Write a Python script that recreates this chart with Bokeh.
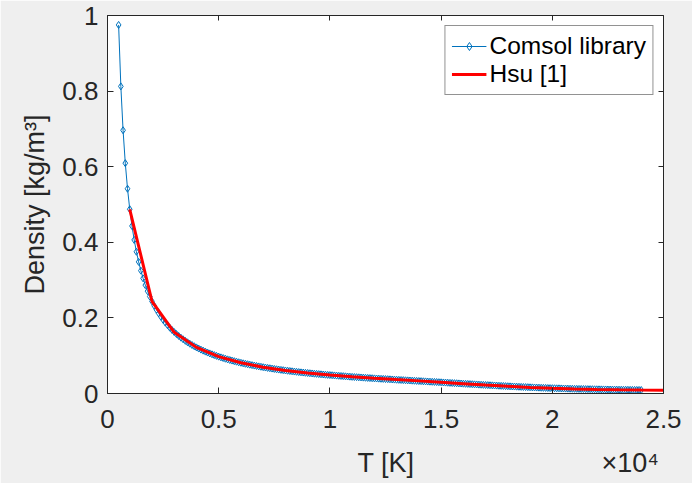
from bokeh.plotting import figure
from bokeh.models import Range1d, LinearAxis, FixedTicker, Label, Legend, LegendItem
from bokeh.embed import file_html
from bokeh.resources import INLINE

# ---- data ----
comsol_T = [
    500, 600, 700, 800, 900, 1000, 1100, 1200, 1300, 1400, 1500, 1600, 1700, 1800, 1900,
    2000, 2100, 2200, 2300, 2400, 2500, 2600, 2700, 2800, 2900, 3000, 3100, 3200, 3300, 3400,
    3500, 3600, 3700, 3800, 3900, 4000, 4100, 4200, 4300, 4400, 4500, 4600, 4700, 4800, 4900,
    5000, 5100, 5200, 5300, 5400, 5500, 5600, 5700, 5800, 5900, 6000, 6100, 6200, 6300, 6400,
    6500, 6600, 6700, 6800, 6900, 7000, 7100, 7200, 7300, 7400, 7500, 7600, 7700, 7800, 7900,
    8000, 8100, 8200, 8300, 8400, 8500, 8600, 8700, 8800, 8900, 9000, 9100, 9200, 9300, 9400,
    9500, 9600, 9700, 9800, 9900, 10000, 10100, 10200, 10300, 10400, 10500, 10600, 10700, 10800, 10900,
    11000, 11100, 11200, 11300, 11400, 11500, 11600, 11700, 11800, 11900, 12000, 12100, 12200, 12300, 12400,
    12500, 12600, 12700, 12800, 12900, 13000, 13100, 13200, 13300, 13400, 13500, 13600, 13700, 13800, 13900,
    14000, 14100, 14200, 14300, 14400, 14500, 14600, 14700, 14800, 14900, 15000, 15100, 15200, 15300, 15400,
    15500, 15600, 15700, 15800, 15900, 16000, 16100, 16200, 16300, 16400, 16500, 16600, 16700, 16800, 16900,
    17000, 17100, 17200, 17300, 17400, 17500, 17600, 17700, 17800, 17900, 18000, 18100, 18200, 18300, 18400,
    18500, 18600, 18700, 18800, 18900, 19000, 19100, 19200, 19300, 19400, 19500, 19600, 19700, 19800, 19900,
    20000, 20100, 20200, 20300, 20400, 20500, 20600, 20700, 20800, 20900, 21000, 21100, 21200, 21300, 21400,
    21500, 21600, 21700, 21800, 21900, 22000, 22100, 22200, 22300, 22400, 22500, 22600, 22700, 22800, 22900,
    23000, 23100, 23200, 23300, 23400, 23500, 23600, 23700, 23800, 23900, 24000,
]
comsol_density = [
    0.975, 0.8125, 0.6964, 0.6094, 0.5417, 0.4875, 0.4432, 0.4063, 0.375, 0.3482, 0.325, 0.3047, 0.2868, 0.2708, 0.2566,
    0.2438, 0.2321, 0.2216, 0.212, 0.2031, 0.195, 0.1875, 0.1806, 0.1741, 0.1681, 0.1625, 0.1573, 0.1523, 0.1477, 0.1434,
    0.1393, 0.1354, 0.1318, 0.1283, 0.125, 0.1219, 0.1189, 0.1161, 0.1134, 0.1108, 0.1083, 0.106, 0.1037, 0.1016, 0.0995,
    0.0975, 0.0956, 0.0938, 0.092, 0.0903, 0.0886, 0.0871, 0.0855, 0.0841, 0.0826, 0.0813, 0.0799, 0.0786, 0.0774, 0.0762,
    0.075, 0.0739, 0.0728, 0.0717, 0.0707, 0.0696, 0.0687, 0.0677, 0.0668, 0.0659, 0.065, 0.0641, 0.0633, 0.0625, 0.0617,
    0.0609, 0.0602, 0.0595, 0.0587, 0.058, 0.0574, 0.0567, 0.056, 0.0554, 0.0548, 0.0542, 0.0536, 0.053, 0.0524, 0.0519,
    0.0513, 0.0508, 0.0503, 0.0497, 0.0492, 0.0488, 0.0483, 0.0478, 0.0473, 0.0468, 0.0463, 0.0459, 0.0454, 0.0449, 0.0445,
    0.044, 0.0436, 0.0432, 0.0428, 0.0424, 0.042, 0.0416, 0.0412, 0.0408, 0.0404, 0.04, 0.0396, 0.0393, 0.0389, 0.0386,
    0.0382, 0.0379, 0.0375, 0.0371, 0.0368, 0.0364, 0.0361, 0.0357, 0.0354, 0.035, 0.0347, 0.0344, 0.034, 0.0337, 0.0333,
    0.033, 0.0327, 0.0323, 0.032, 0.0316, 0.0313, 0.031, 0.0306, 0.0303, 0.0299, 0.0296, 0.0292, 0.0289, 0.0285, 0.0281,
    0.0278, 0.0274, 0.0271, 0.0267, 0.0264, 0.026, 0.0256, 0.0253, 0.0249, 0.0246, 0.0242, 0.0239, 0.0235, 0.0232, 0.0228,
    0.0225, 0.0222, 0.0218, 0.0215, 0.0212, 0.0209, 0.0205, 0.0202, 0.0199, 0.0195, 0.0192, 0.0189, 0.0186, 0.0184, 0.0181,
    0.0178, 0.0175, 0.0172, 0.017, 0.0167, 0.0164, 0.0162, 0.0159, 0.0157, 0.0155, 0.0152, 0.015, 0.0148, 0.0145, 0.0143,
    0.0141, 0.0139, 0.0137, 0.0136, 0.0134, 0.0132, 0.0131, 0.0129, 0.0127, 0.0126, 0.0124, 0.0123, 0.0121, 0.012, 0.0119,
    0.0117, 0.0116, 0.0115, 0.0114, 0.0112, 0.0111, 0.011, 0.0109, 0.0108, 0.0107, 0.0106, 0.0105, 0.0104, 0.0103, 0.0102,
    0.0101, 0.01, 0.0099, 0.0098, 0.0098, 0.0097, 0.0096, 0.0095, 0.0094, 0.0094, 0.0093,
]
hsu_T = [1000, 2000, 3000, 4000, 5000, 6000, 7000, 8000, 9000, 10000, 11000, 12000, 13000,
         14000, 15000, 16000, 17000, 18000, 19000, 20000, 21000, 22000, 23000, 24000, 25000]
hsu_density = [0.487, 0.244, 0.162, 0.122, 0.0975, 0.0812, 0.0696, 0.0609, 0.0541, 0.0487, 0.0442,
               0.0403, 0.0368, 0.0334, 0.0298, 0.026, 0.0223, 0.0189, 0.0161, 0.0139, 0.0122,
               0.0109, 0.0099, 0.0091, 0.0085]

x_ticks = [0, 5000, 10000, 15000, 20000, 25000]
x_tick_labels = ["0", "0.5", "1", "1.5", "2", "2.5"]
y_ticks = [0, 0.2, 0.4, 0.6, 0.8, 1.0]
y_tick_labels = ["0", "0.2", "0.4", "0.6", "0.8", "1"]
x_title = "T [K]"
x_multiplier = "×10⁴"
y_title = "Density [kg/m³]"

FONT = "Liberation Sans"
AX = "#262626"

p = figure(width=692, height=483, output_backend="svg", toolbar_location=None,
           x_range=Range1d(0, 25000), y_range=Range1d(0, 1),
           min_border_left=107, min_border_right=29, min_border_top=15, min_border_bottom=90)
p.background_fill_color = "white"
p.border_fill_color = "#efefef"
p.outline_line_color = AX
p.outline_line_width = 1
p.grid.visible = False

for ax in (p.xaxis[0], p.yaxis[0]):
    ax.major_tick_in = 6
    ax.major_tick_out = 0
    ax.minor_tick_line_color = None
    ax.axis_line_color = AX
    ax.major_tick_line_color = AX
    ax.major_label_text_font = FONT
    ax.major_label_text_font_size = "26px"
    ax.major_label_text_color = AX
    ax.axis_label_text_font = FONT
    ax.axis_label_text_font_size = "27px"
    ax.axis_label_text_font_style = "normal"
    ax.axis_label_text_color = AX

p.xaxis[0].ticker = FixedTicker(ticks=x_ticks)
p.xaxis[0].major_label_overrides = dict(zip(x_ticks, x_tick_labels))
p.xaxis[0].major_label_standoff = 16

p.yaxis[0].ticker = FixedTicker(ticks=y_ticks)
p.yaxis[0].major_label_overrides = dict(zip(y_ticks, y_tick_labels))
p.yaxis[0].axis_label = y_title
p.yaxis[0].major_label_standoff = 9
p.yaxis[0].axis_label_standoff = 9

# top and right ticks (box with inner ticks), no labels
top = LinearAxis(ticker=FixedTicker(ticks=x_ticks), major_tick_in=5, major_tick_out=0,
                 minor_tick_line_color=None, major_label_overrides={t: "" for t in x_ticks},
                 major_label_standoff=0, axis_line_color=None, major_tick_line_color=AX)
right = LinearAxis(ticker=FixedTicker(ticks=y_ticks), major_tick_in=5, major_tick_out=0,
                   minor_tick_line_color=None, major_label_overrides={t: "" for t in y_ticks},
                   major_label_standoff=0, axis_line_color=None, major_tick_line_color=AX)
p.add_layout(top, "above")
p.add_layout(right, "right")

# x title and the x10^4 multiplier share one row under the axis (one label in the bottom panel)
gap = "\u00a0" * 25
p.add_layout(Label(x=357, y=462, x_units="canvas", y_units="canvas",
                   text=x_title + gap + x_multiplier, text_baseline="alphabetic",
                   text_font=FONT, text_font_size="27px", text_color=AX), "below")

c_line = p.line(comsol_T, comsol_density, line_color="#0072BD", line_width=1)
c_mark = p.scatter(comsol_T, comsol_density, marker="diamond", size=7,
                   fill_color=None, line_color="#0072BD", line_width=1)
h_line = p.line(hsu_T, hsu_density, line_color="#FF0000", line_width=3)

legend = Legend(items=[LegendItem(label="Comsol library", renderers=[c_line, c_mark]),
                       LegendItem(label="Hsu [1]", renderers=[h_line])],
                location="top_right")
legend.label_text_font = FONT
legend.label_text_font_size = "24.5px"
legend.label_text_color = "black"
legend.border_line_color = AX
legend.border_line_width = 1
legend.background_fill_color = "white"
legend.background_fill_alpha = 1
legend.glyph_width = 35
legend.label_standoff = 3
legend.padding = 6
legend.spacing = 0
legend.margin = 10
p.add_layout(legend)

open("out.html", "w").write(file_html(p, INLINE))
